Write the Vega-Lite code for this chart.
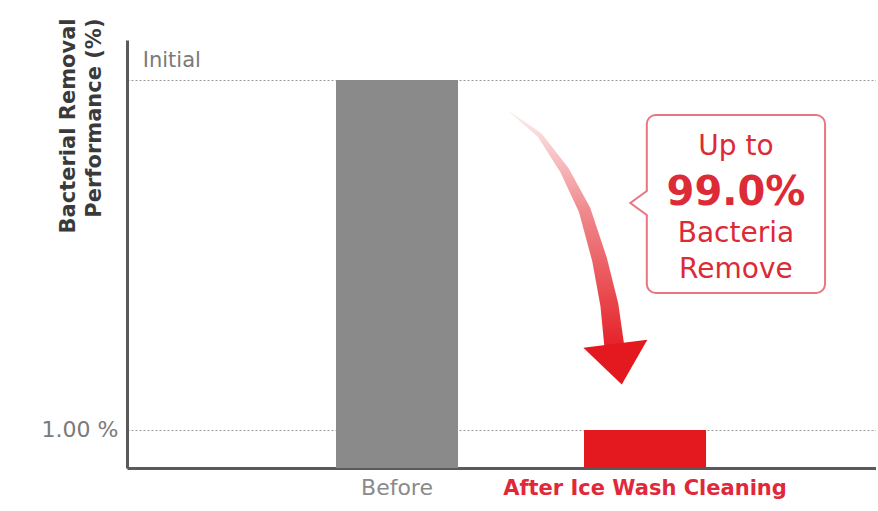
{
  "$schema": "https://vega.github.io/schema/vega-lite/v6.json",
  "autosize": "none",
  "width": 749,
  "height": 428,
  "padding": {"left": 127, "top": 40, "right": 0, "bottom": 34},
  "background": "white",
  "config": {"view": {"stroke": null}, "font": "DejaVu Sans"},
  "resolve": {"scale": {"x": "independent"}, "axis": {"y": "independent"}},
  "layer": [
    {
      "data": {"values": [
        {"stage": "Before", "value": 100},
        {"stage": "After Ice Wash Cleaning", "value": 1}
      ]},
      "mark": {"type": "bar"},
      "encoding": {
        "x": {
          "field": "stage", "type": "nominal", "sort": null,
          "scale": {"paddingInner": 0.508, "paddingOuter": 0.764, "align": 0.5515},
          "axis": {
            "title": null, "ticks": false, "labelAngle": 0, "labelLimit": 0,
            "labelFontSize": {"expr": "datum.value == 'Before' ? 22 : 21"}, "labelPadding": 9,
            "labelColor": {"expr": "datum.value == 'Before' ? '#8a8a8a' : '#e0283a'"},
            "labelFontWeight": {"expr": "datum.value == 'Before' ? 'normal' : 'bold'"},
            "domainColor": "#5a5a5a", "domainWidth": 3, "grid": false
          }
        },
        "y": {
          "field": "value", "type": "quantitative",
          "scale": {"domain": [-9.75, 111.3], "zero": false, "nice": false},
          "axis": {
            "values": [1, 100],
            "labelExpr": "datum.value == 1 ? '1.00 %' : ''",
            "labelFontSize": 22, "labelColor": "#7a7a7a", "labelPadding": 9,
            "ticks": false,
            "grid": true, "gridDash": [2, 2], "gridColor": "#9a9a9a", "gridWidth": 1,
            "domainColor": "#5a5a5a", "domainWidth": 3,
            "title": ["Bacterial Removal", "Performance (%)"],
            "titleFontSize": 21, "titleFontWeight": "bold", "titleColor": "#3a3a3a",
            "titleAngle": -90, "titleAlign": "right", "titleBaseline": "top",
            "titleX": -70, "titleY": -22, "titleLineHeight": 26
          }
        },
        "y2": {"datum": -9.75},
        "color": {
          "field": "stage", "type": "nominal",
          "scale": {"domain": ["Before", "After Ice Wash Cleaning"], "range": ["#8a8a8a", "#e3191f"]},
          "legend": null
        }
      }
    },
    {
      "layer": [
        {
          "data": {"values": [{"label": "Initial"}]},
          "mark": {"type": "text", "align": "left", "baseline": "alphabetic", "dy": -13, "fontSize": 21, "color": "#7a7a7a"},
          "encoding": {
            "x": {"datum": 2.1, "type": "quantitative", "scale": {"domain": [0, 100]}, "axis": null},
            "y": {"datum": 100, "type": "quantitative", "axis": null},
            "text": {"field": "label"}
          }
        },
        {
          "data": {"values": [
            {"i": 1, "u": 51.1, "v": 91.0, "w": 1},
            {"i": 2, "u": 55.1, "v": 84.4, "w": 5},
            {"i": 3, "u": 58.4, "v": 74.5, "w": 9},
            {"i": 4, "u": 61.1, "v": 63.2, "w": 12},
            {"i": 5, "u": 63.1, "v": 49.1, "w": 15},
            {"i": 6, "u": 64.4, "v": 36.4, "w": 18},
            {"i": 7, "u": 65.1, "v": 24.0, "w": 20}
          ]},
          "mark": {
            "type": "trail",
            "color": {"gradient": "linear", "x1": 0, "y1": 0, "x2": 0, "y2": 1,
              "stops": [{"offset": 0, "color": "#fdf0f0"}, {"offset": 0.4, "color": "#f08a8e"}, {"offset": 1, "color": "#e3191f"}]}
          },
          "encoding": {
            "x": {"field": "u", "type": "quantitative", "axis": null},
            "y": {"field": "v", "type": "quantitative", "axis": null},
            "size": {"field": "w", "type": "quantitative", "scale": null, "legend": null},
            "order": {"field": "i"}
          }
        },
        {
          "data": {"values": [{"part": "arrowhead"}]},
          "mark": {"type": "point", "shape": "M -1 -0.45 L 1 -0.7 L 0.2 0.7 Z", "size": 4096, "filled": true, "color": "#e3191f", "opacity": 1},
          "encoding": {
            "x": {"datum": 65.2, "type": "quantitative", "axis": null},
            "y": {"datum": 20.2, "type": "quantitative", "axis": null}
          }
        },
        {
          "data": {"values": [{"part": "callout"}]},
          "mark": {"type": "rect", "fill": "white", "stroke": "#e8767e", "strokeWidth": 2, "cornerRadius": 9},
          "encoding": {
            "x": {"datum": 69.4, "type": "quantitative", "axis": null},
            "x2": {"datum": 93.2},
            "y": {"datum": 90.1, "type": "quantitative", "axis": null},
            "y2": {"datum": 39.75}
          }
        },
        {
          "data": {"values": [{"part": "gap"}]},
          "mark": {"type": "rule", "stroke": "white", "strokeWidth": 4},
          "encoding": {
            "x": {"datum": 69.4, "type": "quantitative", "axis": null},
            "y": {"datum": 68.4, "type": "quantitative", "axis": null},
            "y2": {"datum": 62.0}
          }
        },
        {
          "data": {"values": [
            {"i": 1, "u": 69.4, "v": 68.6},
            {"i": 2, "u": 67.2, "v": 65.2},
            {"i": 3, "u": 69.4, "v": 61.8}
          ]},
          "mark": {"type": "line", "stroke": "#e8767e", "strokeWidth": 2},
          "encoding": {
            "x": {"field": "u", "type": "quantitative", "axis": null},
            "y": {"field": "v", "type": "quantitative", "axis": null},
            "order": {"field": "i"}
          }
        },
        {
          "data": {"values": [{"label": "Up to"}]},
          "mark": {"type": "text", "fontSize": 28, "color": "#dc2a36", "baseline": "alphabetic"},
          "encoding": {
            "x": {"datum": 81.3, "type": "quantitative", "axis": null},
            "y": {"datum": 78.8, "type": "quantitative", "axis": null},
            "text": {"field": "label"}
          }
        },
        {
          "data": {"values": [{"label": "99.0%"}]},
          "mark": {"type": "text", "fontSize": 40, "fontWeight": "bold", "color": "#dc2a36", "baseline": "alphabetic"},
          "encoding": {
            "x": {"datum": 81.3, "type": "quantitative", "axis": null},
            "y": {"datum": 64.6, "type": "quantitative", "axis": null},
            "text": {"field": "label"}
          }
        },
        {
          "data": {"values": [{"label": "Bacteria"}]},
          "mark": {"type": "text", "fontSize": 28, "color": "#dc2a36", "baseline": "alphabetic"},
          "encoding": {
            "x": {"datum": 81.3, "type": "quantitative", "axis": null},
            "y": {"datum": 54.2, "type": "quantitative", "axis": null},
            "text": {"field": "label"}
          }
        },
        {
          "data": {"values": [{"label": "Remove"}]},
          "mark": {"type": "text", "fontSize": 28, "color": "#dc2a36", "baseline": "alphabetic"},
          "encoding": {
            "x": {"datum": 81.3, "type": "quantitative", "axis": null},
            "y": {"datum": 44.0, "type": "quantitative", "axis": null},
            "text": {"field": "label"}
          }
        }
      ]
    }
  ]
}
